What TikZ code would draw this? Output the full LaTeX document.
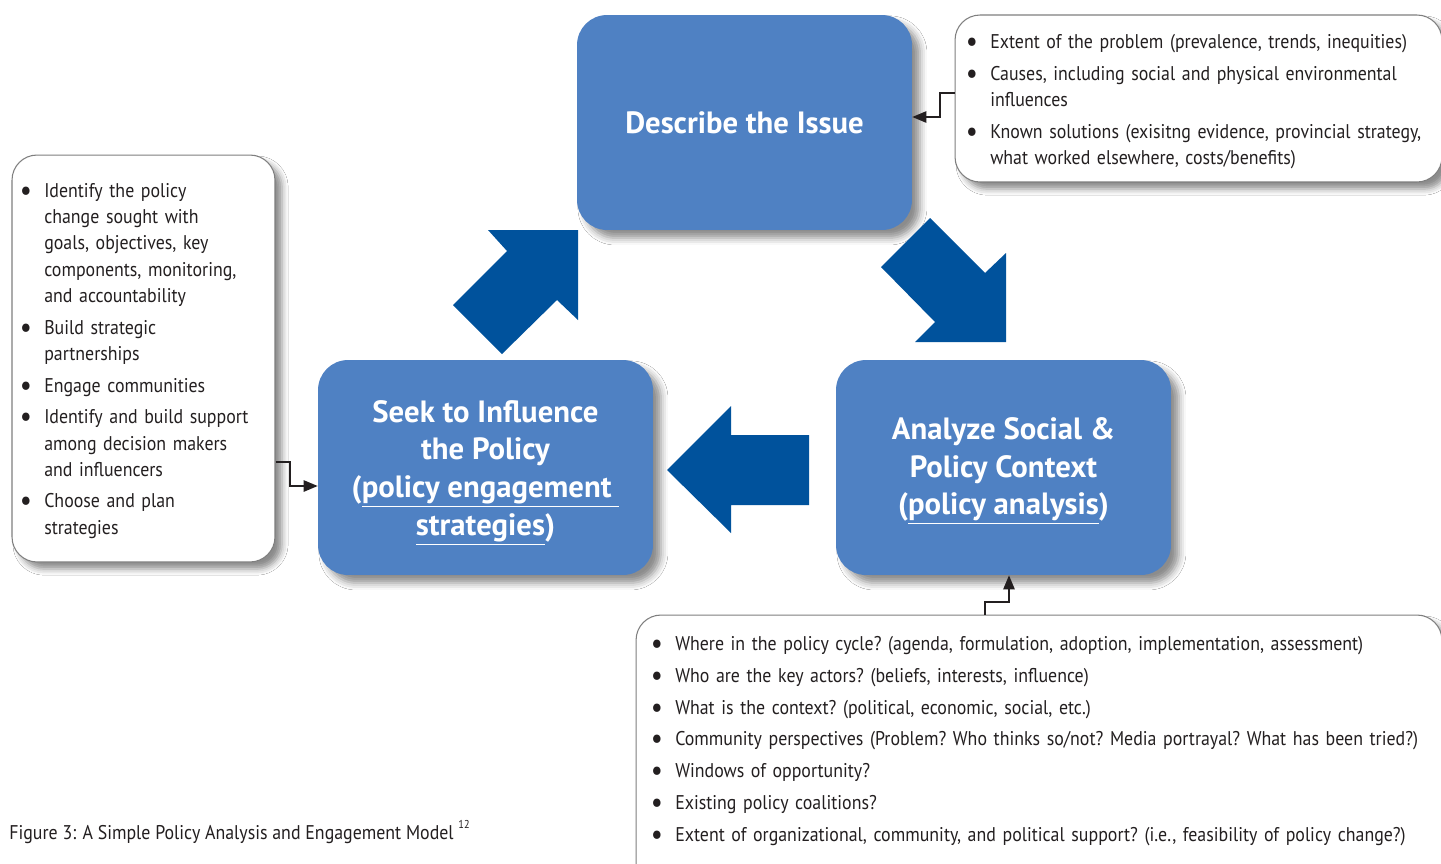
\documentclass[tikz,border=0pt]{standalone}
\usepackage{fontspec}
\setmainfont{PT Sans}[FakeStretch=0.9,BoldFeatures={FakeStretch=1.0}]
\usepackage{enumitem}
\usetikzlibrary{arrows.meta,positioning,shadows.blur}
\definecolor{BoxBlue}{HTML}{4F81C3}
\definecolor{ArrowBlue}{HTML}{00529C}
\definecolor{Frame}{HTML}{7F7F7F}
\definecolor{Ink}{HTML}{231F20}
\tikzset{stage/.style={rounded corners=.6cm,fill=BoxBlue,minimum width=6.7cm,minimum height=4.3cm,blur shadow={shadow xshift=4.5pt,shadow yshift=-4.5pt,shadow blur radius=4pt,shadow opacity=45}},title/.style={align=center,text=white,font=\fontsize{17.5}{21.5}\selectfont\bfseries},notes/.style={rounded corners=.5cm,draw=Frame,fill=white,line width=.6pt,blur shadow={shadow xshift=4pt,shadow yshift=-4pt,shadow blur radius=3.5pt,shadow opacity=45}},list/.style={anchor=north west,inner sep=0pt,text width=#1,text=Ink,font=\fontsize{11.3}{14.9}\selectfont\frenchspacing},bigarrow/.style={fill=ArrowBlue},link/.style={draw=Ink,line width=.8pt,-{Triangle[length=8pt,width=6.5pt]}}}
\newenvironment{points}{\begin{itemize}[label={\raisebox{-.3ex}{\scalebox{1.5}{\textbullet}}},leftmargin=11pt,labelsep=7pt,itemsep=3.2pt,topsep=0pt,parsep=0pt,partopsep=0pt]}{\end{itemize}}

\begin{document}
\begin{tikzpicture}[x=.02cm,y=-.02cm]
      \useasboundingbox[fill=white](0,0) rectangle (1441,863);
      % callout boxes
      \node[notes,minimum width=9.74cm,minimum height=3.34cm](notesR) at (1198.5,98.5){};
      \node[notes,minimum width=5.26cm,minimum height=8.14cm](notesL) at (143.5,358.5){};
      \node[notes,minimum width=16.12cm,minimum height=5.5cm](notesB) at (1039,752.5){};
      % the three stages
      \node[stage,title](issue) at (744.5,122.5){Describe the Issue};
      \node[stage](engage) at (485.5,467.5){};
      \node[stage](analyze) at (1003.5,467.5){};
      \node[title](engageText) at ([yshift=-3pt]engage.center){Seek to Influence\\the Policy\\(\underline{policy engagement\ }\\\underline{strategies})};
      \node[title](analyzeText) at ([yshift=-2pt]analyze.center){Analyze Social \&\\Policy Context\\(\underline{policy analysis})};
      % cycle arrows
      \fill[bigarrow](488,230) -- (578,230) -- (578,320) -- (557,300) -- (502,354) -- (453,305) -- (507,251) -- cycle;
      \fill[bigarrow](930,218) -- (985,273) -- (1006,253) -- (1006,342) -- (915,342) -- (935,322) -- (881,267) -- cycle;
      \fill[bigarrow](667,470) -- (731,406) -- (731,435) -- (809,435) -- (809,505) -- (731,505) -- (731,533) -- cycle;
      % bullet lists
      \node[list=12cm](issueList) at (970.6,22){\begin{points}
        \item Extent of the problem (prevalence, trends, inequities)
        \item Causes, including social and physical environmental\\influences
        \item Known solutions (exisitng evidence, provincial strategy,\\what worked elsewhere, costs/benefits)
      \end{points}};
      \node[list=6cm](engageList) at (24.6,171){\begin{points}
        \item Identify the policy\\change sought with\\goals, objectives, key\\components, monitoring,\\and accountability
        \item Build strategic\\partnerships
        \item Engage communities
        \item Identify and build support\\among decision makers\\and influencers
        \item Choose and plan\\strategies
      \end{points}};
      \node[list=18cm](analyzeList) at (655.6,624){\begin{points}
        \item Where in the policy cycle? (agenda, formulation, adoption, implementation, assessment)
        \item Who are the key actors? (beliefs, interests, influence)
        \item What is the context? (political, economic, social, etc.)
        \item Community perspectives (Problem? Who thinks so/not? Media portrayal? What has been tried?)
        \item Windows of opportunity?
        \item Existing policy coalitions?
        \item Extent of organizational, community, and political support? (i.e., feasibility of policy change?)
      \end{points}};
      % connectors
      \draw[link](notesR.west |- 0,93) -- (940,93) |- (issue.east |- 0,117);
      \draw[link](notesL.east |- 0,462) -- (290,462) |- (engage.west |- 0,486);
      \draw[link](notesB.north -| 985,0) -- (985,602) -| (analyze.south -| 1009,0);
      \node[anchor=west,inner sep=0pt,text=Ink,font=\fontsize{11.3}{13}\selectfont](caption) at (9,832){Figure 3: A Simple Policy Analysis and Engagement Model \raisebox{1.1ex}{\fontsize{6.5}{7}\selectfont 12}};
    \end{tikzpicture}
\end{document}
